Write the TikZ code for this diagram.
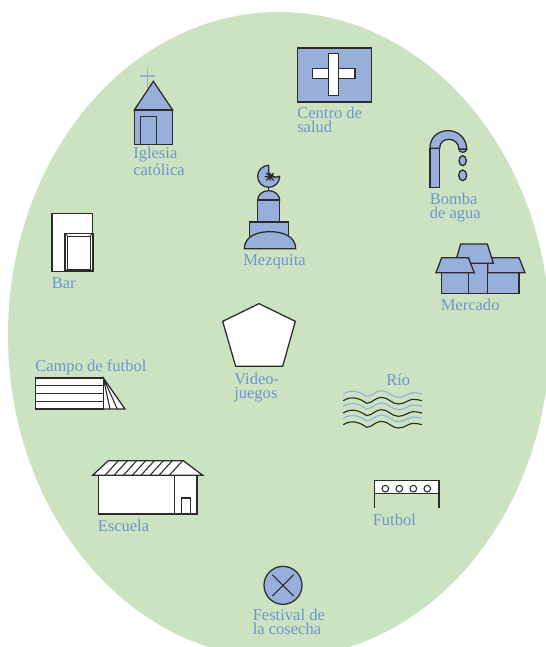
\documentclass[tikz,border=0pt]{standalone}
\usepackage{fontspec}
\setmainfont{Liberation Serif}
\definecolor{fieldgreen}{HTML}{CBE3C1}
\definecolor{iconblue}{HTML}{98AEDB}
\definecolor{labelblue}{HTML}{7097CF}
\definecolor{inkline}{HTML}{2B2B2B}
\tikzset{
  lab/.style={text=labelblue,inner sep=0pt,anchor=base west,align=left,font=\fontsize{12.4}{10.2}\selectfont},
  icon/.style={draw=inkline,fill=iconblue,line width=.95pt,line join=miter},
  wicon/.style={draw=inkline,fill=white,line width=.95pt,line join=miter},
  thin line/.style={draw=inkline,line width=.8pt},
  zoomed/.style={scale=1/3},
}
\begin{document}
\begin{tikzpicture}[x=.75pt,y=-.75pt]
\useasboundingbox (0,0) rectangle (546,647);
\begin{scope}
\clip (0,0) rectangle (546,647);
\fill[fieldgreen] (279,335) ellipse [x radius=271,y radius=323];
\end{scope}

% Centro de salud, Iglesia, Mezquita
\begin{scope}[shift={(110,40)},zoomed]
\path[icon] (562,24) rectangle (784,186);
\path[wicon] (608,86) rectangle (735,116);
\path[wicon] (656,40) rectangle (686,166);
\path[fill=white] (658,88) rectangle (684,114);
% cross above the church
\draw[iconblue,line width=.9pt] (112,88) -- (112,145) (90,108) -- (135,108);
\path[icon] (73,210) -- (130,124) -- (188,210) -- cycle;
\path[icon] (73,210) rectangle (188,313);
\path[icon] (91,230) rectangle (140,313);
% mosque
\path[icon] (476,376) arc (-90:-360:33) -- (495,412) -- (476,400) -- cycle;
\draw[inkline,line width=.9pt] (464,410) -- (496,410) (480,398) -- (480,422) (469,399) -- (491,421) (469,421) -- (491,399);
\draw[inkline,line width=.9pt] (476,441) -- (476,452);
\path[icon] (443,480) arc (180:360:33 and 28) -- cycle;
\path[icon] (443,480) rectangle (509,546);
\path[icon] (419,546) rectangle (536,600);
\path[icon] (403,626) .. controls (403,590) and (440,575) .. (480,575) .. controls (520,575) and (557,590) .. (557,626) -- cycle;
\end{scope}

% Bomba de agua, Mercado
\begin{scope}[shift={(410,120)},zoomed]
\path[icon] (60,85) rectangle (89,203);
\path[icon] (60,85) .. controls (60,50) and (85,32) .. (115,32) .. controls (145,32) and (170,55) .. (170,88) -- (147,88) .. controls (147,70) and (133,58) .. (117,58) .. controls (100,58) and (89,68) .. (89,85) -- cycle;
\path[icon] (147,88) arc (180:0:11.5 and 9) -- cycle;
\path[icon] (158,122) ellipse [x radius=11,y radius=15];
\path[icon] (158,166) ellipse [x radius=12,y radius=16];
% market
\path[icon] (176,430) rectangle (233,520);
\path[icon] (233,458) rectangle (327,520);
\path[icon] (233,413) -- (327,413) -- (345,458) -- (233,458) -- cycle;
\path[icon] (152,372) -- (232,372) -- (250,430) -- (176,430) -- (176,413) -- (140,413) -- cycle;
\path[icon] (94,458) rectangle (176,520);
\path[icon] (95,413) -- (175,413) -- (193,458) -- (78,458) -- cycle;
\end{scope}

% Bar, Campo, Videojuegos
\begin{scope}[shift={(20,200)},zoomed]
\path[wicon] (96,41) rectangle (218,215);
\path[wicon] (135,100) rectangle (218,215);
\path[wicon,line width=.6pt] (143,108) rectangle (210,207);
\draw[inkline,line width=.6pt] (135,100) -- (143,108) (218,100) -- (210,108) (135,215) -- (143,207) (218,215) -- (210,207);
\draw[inkline,line width=1.5pt] (135,213) -- (218,213) -- (218,100);
\path[wicon] (250,534) -- (315,627) -- (250,627) -- cycle;
\draw[thin line] (250,534) -- (270,627) (250,534) -- (292,627);
\path[wicon] (47,534) rectangle (250,627);
\draw[thin line] (47,557) -- (250,557) (47,581) -- (250,581) (47,605) -- (250,605);
\path[wicon] (717,311) -- (826,364) -- (788,499) -- (647,499) -- (608,364) -- cycle;
\end{scope}

% Rio, Futbol
\begin{scope}[shift={(330,370)},zoomed]
\foreach \yy/\cc in {0/iconblue,20/inkline,37/iconblue,57/inkline,73/iconblue,92/inkline}{
  \draw[\cc,line width=.85pt] (40,{72+\yy}) .. controls (62,{58+\yy}) and (85,{62+\yy}) .. (110,{80+\yy})
     .. controls (130,{78+\yy}) and (135,{62+\yy}) .. (155,{62+\yy})
     .. controls (175,{62+\yy}) and (185,{82+\yy}) .. (205,{82+\yy})
     .. controls (225,{82+\yy}) and (235,{68+\yy}) .. (250,{68+\yy})
     .. controls (260,{68+\yy}) and (268,{70+\yy}) .. (276,{72+\yy});
}
\path[wicon] (133,331) rectangle (327,371);
\draw[inkline,line width=.95pt] (133,371) -- (133,415) (327,371) -- (327,415);
\foreach \cx in {166,208,250,292}{
  \draw[inkline,line width=.8pt] (\cx,356) circle [radius=10];
}
\end{scope}

% Escuela, Festival
\begin{scope}[shift={(80,450)},zoomed]
\path[wicon] (56,76) rectangle (351,192);
\path[wicon] (38,76) -- (85,32) -- (310,32) -- (368,76) -- cycle;
\foreach \hx in {75,102,130,157,183,210,237,268}{
  \draw[thin line] (\hx,76) -- ({\hx+40},32);
}
\draw[thin line] (284,76) -- (284,192);
\draw[thin line] (304,192) -- (304,144) -- (331,144) -- (331,192);
\path[icon] (609,406) circle [radius=57];
\draw[inkline,line width=.85pt] (577,374) -- (641,438) (577,438) -- (641,374);
\end{scope}

% Labels (anchored on the baseline of their last line)
\node[lab] (lsalud) at (297,132) {Centro de\\salud};
\node[lab] (liglesia) at (133,175) {Iglesia\\católica};
\node[lab] (lbomba) at (429.5,218) {Bomba\\de agua};
\node[lab] (lmezquita) at (243,265) {Mezquita};
\node[lab] (lmercado) at (440.5,310) {Mercado};
\node[lab] (lbar) at (51.5,288) {Bar};
\node[lab] (lcampo) at (35,371) {Campo de futbol};
\node[lab] (lvideo) at (234,398) {Video-\\juegos};
\node[lab] (lrio) at (386,385) {Río};
\node[lab] (lfutbol) at (372.5,525) {Futbol};
\node[lab] (lescuela) at (97.5,531) {Escuela};
\node[lab] (lfestival) at (252.5,634) {Festival de\\la cosecha};
\end{tikzpicture}
\end{document}
